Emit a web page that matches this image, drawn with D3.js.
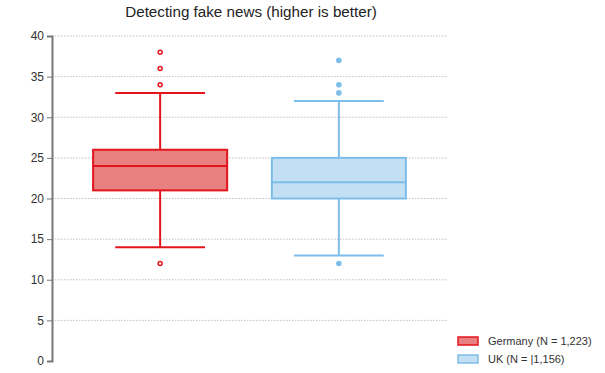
<!DOCTYPE html>
<html>
<head>
<meta charset="utf-8">
<script src="https://cdn.jsdelivr.net/npm/d3@7"></script>
<style>
  body { margin: 0; background: #fff; }
  svg { font-family: "Liberation Sans", Arial, sans-serif; }
</style>
</head>
<body>
<div id="chart"></div>
<script>
// box plot values
const groups = ["Germany", "UK"];
const labels = ["Germany (N = 1,223)", "UK (N = |1,156)"];
const q1 = [21, 20];
const medians = [24, 22];
const q3 = [26, 25];
const lowWhisker = [14, 13];
const highWhisker = [33, 32];
const outliers = [[38, 36, 34, 12], [37, 34, 33, 12]];
const yTicks = [0, 5, 10, 15, 20, 25, 30, 35, 40];

const strokes = ["#e3141c", "#7dbde9"];
const fills = ["#e98080", "#c3dff3"];

const width = 605, height = 373,
      margin = ({ top: 36, right: 158, bottom: 12, left: 52 });

let svg = d3.select("#chart")
    .append("svg")
    .attr("width", width)
    .attr("height", height);

let x = d3.scaleBand()
    .domain(groups)
    .range([margin.left, width - margin.right])
    .paddingInner(0.25)
    .paddingOuter(0.23);

let y = d3.scaleLinear()
    .domain([0, 40])
    .range([height - margin.bottom, margin.top]);

// dotted grid
svg.append("g")
    .selectAll("line")
    .data(yTicks.filter(d => d > 0))
    .join("line")
    .attr("x1", margin.left)
    .attr("x2", width - margin.right)
    .attr("y1", d => y(d))
    .attr("y2", d => y(d))
    .attr("stroke", "#c0c0c0")
    .attr("stroke-dasharray", "1.5,1.5");

// y axis
let yAxis = svg.append("g")
    .attr("transform", `translate(${margin.left},0)`)
    .call(d3.axisLeft(y).tickValues(yTicks).tickSize(5).tickPadding(3));
yAxis.select(".domain").attr("stroke", "#777").attr("stroke-width", 2);
yAxis.selectAll(".tick line").attr("stroke", "#777");
yAxis.selectAll(".tick text").attr("font-size", 12).attr("fill", "#333");

// boxes
let box = svg.selectAll(".box")
    .data(groups)
    .join("g")
    .attr("class", "box");

const cx = d => x(d) + x.bandwidth() / 2;
const capHalf = x.bandwidth() * 0.335;

box.append("line") // whisker
    .attr("x1", cx).attr("x2", cx)
    .attr("y1", (d, i) => y(lowWhisker[i]))
    .attr("y2", (d, i) => y(highWhisker[i]))
    .attr("stroke", (d, i) => strokes[i])
    .attr("stroke-width", 2);

box.each(function (d, i) {
    let g = d3.select(this);
    [lowWhisker[i], highWhisker[i]].forEach(v => {
        g.append("line")
            .attr("x1", cx(d) - capHalf)
            .attr("x2", cx(d) + capHalf)
            .attr("y1", y(v)).attr("y2", y(v))
            .attr("stroke", strokes[i])
            .attr("stroke-width", 2);
    });
});

box.append("rect")
    .attr("x", d => x(d))
    .attr("width", x.bandwidth())
    .attr("y", (d, i) => y(q3[i]))
    .attr("height", (d, i) => y(q1[i]) - y(q3[i]))
    .attr("fill", (d, i) => fills[i])
    .attr("stroke", (d, i) => strokes[i])
    .attr("stroke-width", 2);

box.append("line") // median
    .attr("x1", d => x(d))
    .attr("x2", d => x(d) + x.bandwidth())
    .attr("y1", (d, i) => y(medians[i]))
    .attr("y2", (d, i) => y(medians[i]))
    .attr("stroke", (d, i) => strokes[i])
    .attr("stroke-width", 2);

box.each(function (d, i) {
    d3.select(this).selectAll("circle")
        .data(outliers[i])
        .join("circle")
        .attr("cx", cx(d))
        .attr("cy", v => y(v))
        .attr("r", i === 0 ? 2 : 2.8)
        .attr("fill", i === 0 ? "#fff" : strokes[i])
        .attr("stroke", strokes[i])
        .attr("stroke-width", i === 0 ? 1.5 : 0);
});

// title
svg.append("text")
    .attr("x", 251)
    .attr("y", 17)
    .attr("text-anchor", "middle")
    .attr("font-size", 15.2)
    .attr("fill", "#222")
    .text("Detecting fake news (higher is better)");

// legend
let legend = svg.selectAll(".legend")
    .data(groups)
    .join("g")
    .attr("class", "legend")
    .attr("transform", (d, i) => `translate(458,${337 + i * 18})`);

legend.append("rect")
    .attr("width", 20)
    .attr("height", 8)
    .attr("fill", (d, i) => fills[i])
    .attr("stroke", (d, i) => strokes[i])
    .attr("stroke-width", 1.5);

legend.append("text")
    .attr("x", 30)
    .attr("y", 8)
    .attr("font-size", 11)
    .attr("fill", "#333")
    .text((d, i) => labels[i]);
</script>
</body>
</html>
